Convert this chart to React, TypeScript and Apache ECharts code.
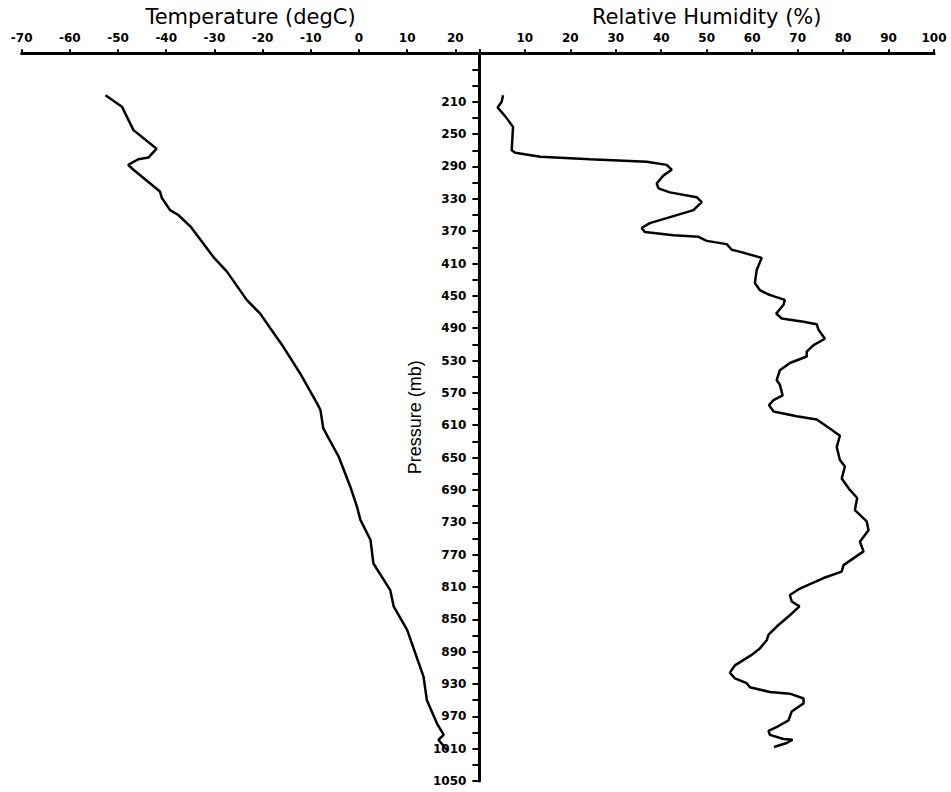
import { useEffect, useRef } from 'react';
import * as echarts from 'echarts';

// Temperature profile: pressure (mb) and temperature (degC)
const tempPressure = [202, 216, 245, 268, 279, 281, 288, 294, 321, 329, 344, 350, 364, 375, 402, 420, 455, 472, 490, 513, 546, 583, 591, 614, 649, 686, 711, 727, 752, 781, 814, 834, 863, 909, 921, 950, 979, 993, 999, 1012];
const temperature = [-52.6, -49.2, -46.8, -42.0, -43.7, -45.8, -47.9, -46.8, -41.3, -40.9, -39.2, -37.5, -35.0, -33.6, -30.2, -27.4, -23.3, -20.5, -18.4, -15.7, -12.2, -8.7, -8.0, -7.4, -4.2, -1.8, -0.4, 0.3, 2.4, 3.0, 6.5, 7.2, 10.0, 12.7, 13.4, 14.1, 16.2, 17.6, 16.5, 18.3];

// Relative humidity profile: pressure (mb) and RH (%)
const rhPressure = [202, 210, 217, 228, 241, 270, 273, 278, 281, 284, 288, 294, 301, 311, 317, 322, 328, 334, 340, 344, 360, 366, 371, 375, 377, 382, 386, 393, 395, 403, 418, 434, 443, 448, 451, 455, 461, 472, 478, 482, 485, 492, 503, 511, 519, 525, 533, 542, 554, 560, 573, 579, 585, 593, 599, 603, 614, 623, 637, 653, 661, 676, 690, 700, 715, 729, 740, 754, 766, 783, 791, 799, 812, 820, 828, 834, 845, 859, 869, 876, 886, 894, 907, 916, 923, 929, 934, 940, 942, 948, 954, 964, 975, 982, 988, 993, 998, 999, 1003, 1008];
const humidity = [5.2, 4.9, 4.0, 5.7, 7.4, 7.1, 7.9, 13.4, 24.3, 36.8, 41.2, 42.3, 40.5, 39.0, 39.4, 41.9, 47.8, 48.9, 47.8, 47.1, 37.5, 35.7, 36.4, 42.7, 48.2, 50.0, 54.4, 55.5, 57.0, 62.1, 61.0, 60.6, 61.7, 63.5, 65.0, 67.2, 66.9, 65.3, 66.5, 71.3, 74.2, 74.6, 76.0, 73.5, 72.0, 72.0, 68.3, 66.1, 65.4, 66.1, 66.7, 64.7, 63.7, 64.7, 69.8, 74.2, 77.1, 79.3, 78.6, 79.3, 80.4, 79.7, 81.5, 83.1, 82.6, 85.2, 85.6, 83.7, 84.5, 80.1, 79.7, 75.7, 70.5, 68.3, 68.7, 70.4, 68.3, 65.4, 63.6, 63.2, 61.7, 59.9, 56.2, 55.1, 56.2, 58.8, 59.5, 63.9, 68.3, 71.3, 71.3, 68.7, 68.0, 65.8, 63.6, 63.9, 66.9, 68.9, 67.6, 64.8];

// Axis ranges / labelled ticks
const pressureMin = 150;
const pressureMax = 1050;
const pressureStep = 20;
const pressureLabels = [210, 250, 290, 330, 370, 410, 450, 490, 530, 570, 610, 650, 690, 730, 770, 810, 850, 890, 930, 970, 1010, 1050];
const tempMin = -70;
const tempMax = 25;
const tempLabelMax = 20;
const rhMin = 0;
const rhMax = 100;

const tickFont = { fontFamily: 'DejaVu Sans', fontWeight: 'bold' as const, fontSize: 12, color: '#000' };
const titleFont = { fontFamily: 'DejaVu Sans', fontSize: 21, color: '#000' };

export default function App() {
  const ref = useRef<HTMLDivElement>(null);
  useEffect(() => {
    if (!ref.current) return;
    const chart = echarts.init(ref.current, undefined, { renderer: 'svg' });
    const gridTop = 53.3;
    const gridHeight = 727.7;
    const xCommon = {
      type: 'value' as const,
      position: 'top' as const,
      interval: 10,
      nameLocation: 'middle' as const,
      nameGap: 21,
      nameTextStyle: titleFont,
      splitLine: { show: false },
      axisLine: { onZero: false, lineStyle: { color: '#000', width: 3 } },
      axisTick: { inside: false, length: 4, lineStyle: { color: '#000', width: 2 } },
    };
    const yCommon = {
      type: 'value' as const,
      inverse: true,
      min: pressureMin,
      max: pressureMax,
      interval: pressureStep,
      splitLine: { show: false },
    };
    chart.setOption({
      animation: false,
      backgroundColor: '#fff',
      grid: [
        { left: 21.7, top: gridTop, width: 457.7, height: gridHeight, containLabel: false },
        { left: 479.4, top: gridTop, width: 454.6, height: gridHeight, containLabel: false },
      ],
      xAxis: [
        {
          ...xCommon,
          gridIndex: 0,
          min: tempMin,
          max: tempMax,
          name: 'Temperature (degC)',
          axisLabel: { ...tickFont, margin: 9, formatter: (v: number) => (v > tempLabelMax ? '' : String(v)) },
        },
        {
          ...xCommon,
          gridIndex: 1,
          min: rhMin,
          max: rhMax,
          name: 'Relative Humidity (%)',
          axisLabel: { ...tickFont, margin: 9, formatter: (v: number) => (v === 0 ? '' : String(v)) },
        },
      ],
      yAxis: [
        { ...yCommon, gridIndex: 0, show: false },
        {
          ...yCommon,
          gridIndex: 1,
          position: 'left',
          name: 'Pressure (mb)',
          nameLocation: 'middle',
          nameRotate: 90,
          nameGap: 55,
          nameTextStyle: { fontFamily: 'Liberation Sans', fontSize: 18, color: '#000' },
          axisLine: { show: true, onZero: false, lineStyle: { color: '#000', width: 3 } },
          axisTick: { show: true, inside: false, length: 7, lineStyle: { color: '#000', width: 2 } },
          axisLabel: {
            ...tickFont,
            margin: 13,
            formatter: (v: number) => (pressureLabels.includes(v) ? String(v) : ''),
          },
        },
      ],
      series: [
        {
          type: 'line',
          xAxisIndex: 0,
          yAxisIndex: 0,
          symbol: 'none',
          lineStyle: { color: '#000', width: 2.5 },
          data: tempPressure.map((p, i) => [temperature[i], p]),
        },
        {
          type: 'line',
          xAxisIndex: 1,
          yAxisIndex: 1,
          symbol: 'none',
          lineStyle: { color: '#000', width: 2.5 },
          data: rhPressure.map((p, i) => [humidity[i], p]),
        },
      ],
    });
    return () => chart.dispose();
  }, []);
  return <div ref={ref} style={{ position: 'absolute', left: 0, top: 0, width: 951, height: 792 }} />;
}
